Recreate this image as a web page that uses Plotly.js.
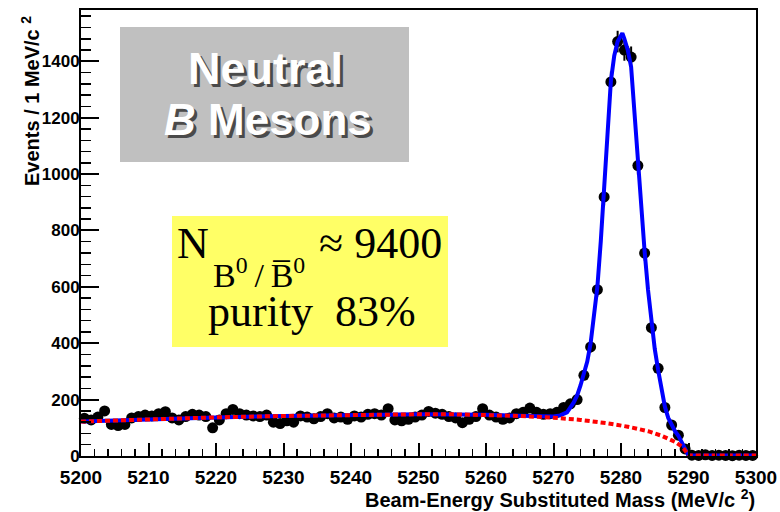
<!DOCTYPE html>
<html>
<head>
<meta charset="utf-8">
<script src="https://cdn.plot.ly/plotly-3.0.1.min.js"></script>
<style>html,body{margin:0;padding:0;background:#fff;}#chart{width:780px;height:512px;}</style>
</head>
<body>
<div id="chart"></div>
<script>
// ---- data ----
// events per 1 MeV/c^2 bin, bins start at 5200 (centres 5200.5 ... 5299.5)
const binStart = 5200.5;
const binWidth = 1;
const counts = [
  134,128,138,160,112,108,112,135,140,145,
  142,150,157,135,128,140,148,145,140,100,
  128,150,165,150,145,142,140,145,120,115,
  125,120,142,138,132,140,150,135,138,130,
  142,138,148,150,145,168,128,125,130,138,
  145,158,152,148,140,135,118,130,140,168,
  145,138,130,135,150,155,170,155,148,150,
  155,172,185,200,286,387,590,919,1327,1470,
  1440,1415,1030,720,455,311,172,110,74,25,
  3,2,4,2,3,2,1,3,2,2
];
// total fit (blue)
const fitMass = [5200,5210,5220,5230,5240,5250,5260,5265,5268,5270,
  5271,5272,5273,5273.5,5274,5274.5,5275,5275.5,5276,5276.5,
  5277,5277.5,5278,5278.5,5279,5279.5,5280,5280.2,5280.5,5281,
  5281.5,5282,5282.5,5283,5283.5,5284,5284.5,5285,5285.5,5286,
  5286.5,5287,5287.5,5288,5288.5,5289,5289.5,5290,5300];
const fitTotal = [122,130,137,142,146,148,146,142,139,140,
  144,155,190,215,250,290,335,400,490,600,
  760,930,1140,1330,1420,1470,1497,1500,1480,1440,
  1380,1210,1030,870,725,590,470,380,305,235,
  175,135,108,88,72,50,25,2,2];
// background fit (red dotted)
const bkgMass = [5200,5210,5220,5230,5240,5250,5255,5260,5265,5270,5274,5278,5281,5284,5286,5288,5289,5289.5,5290,5300];
const bkgLevel = [122,130,137,142,146,148,148,146,142,136,128,116,104,88,72,50,34,20,2,2];

const xTitle = 'Beam-Energy Substituted Mass (MeV/c <sup>2</sup>)';
const yTitle = 'Events / 1 MeV/c <sup>2</sup>';

// ---- layout helpers (pixel -> paper) ----
const L = 81, R = 756, T = 10, B = 456;
const PX = x => (x - L) / (R - L);
const PY = y => (B - y) / (B - T);

const sans = 'Liberation Sans, Arial, sans-serif';
const serif = 'Liberation Serif, Times New Roman, serif';

const traces = [
  {
    type: 'scatter', mode: 'markers',
    x0: binStart, dx: binWidth, y: counts,
    marker: {color: '#000', size: 11},
    error_y: {type: 'sqrt', visible: true, color: '#000', thickness: 2, width: 0},
    cliponaxis: false, hoverinfo: 'skip', showlegend: false
  },
  {
    type: 'scatter', mode: 'lines', x: fitMass, y: fitTotal,
    line: {color: '#0000ff', width: 4},
    hoverinfo: 'skip', showlegend: false
  },
  {
    type: 'scatter', mode: 'lines', x: bkgMass, y: bkgLevel,
    line: {color: '#ff0000', width: 4, dash: '5px,3px'},
    hoverinfo: 'skip', showlegend: false
  }
];

function ann(text, x, y, font, extra) {
  return Object.assign({
    text: text, x: x, y: y, xref: 'paper', yref: 'paper',
    showarrow: false, xanchor: 'center', yanchor: 'middle', font: font
  }, extra || {});
}

const boldSans = (s, c, sh) => Object.assign({family: sans, size: s, color: c, weight: 'bold'}, sh ? {shadow: sh} : {});
const serifFont = s => ({family: serif, size: s, color: '#000'});
const boxShadow = '3px 3px 0px #4a4a4a';

const annotations = [
  // Neutral B Mesons (white with dark drop shadow)
  ann('Neutral', PX(265), PY(68), boldSans(45, '#fff', boxShadow)),
  ann('<i>B</i> Mesons', PX(268), PY(119), boldSans(44, '#fff', boxShadow)),
  // yield box
  ann('N', PX(192.5), PY(243), serifFont(44)),
  ann('B<sup>0</sup>\u2009/\u2009B\u0305<sup>0</sup>', PX(259), PY(273), serifFont(34)),
  ann('\u2248 9400', PX(380), PY(243), serifFont(44)),
  ann('purity\u00a0\u00a083%', PX(312), PY(311), serifFont(44)),
  // axis titles
  ann(xTitle, 1, PY(498), boldSans(20, '#000'), {xanchor: 'right', borderpad: 0}),
  ann(yTitle, PX(30), PY(14), boldSans(20, '#000'), {yanchor: 'top', textangle: -90})
];

const shapes = [
  {type: 'rect', xref: 'paper', yref: 'paper', x0: PX(120), x1: PX(409), y0: PY(162), y1: PY(27),
   fillcolor: '#c0c0c0', line: {width: 0}, layer: 'above'},
  {type: 'rect', xref: 'paper', yref: 'paper', x0: PX(172), x1: PX(448), y0: PY(347), y1: PY(216),
   fillcolor: '#ffff66', line: {width: 0}, layer: 'above'}
];

const layout = {
  width: 780, height: 512, autosize: false,
  margin: {l: L, r: 780 - R, t: T, b: 512 - B},
  paper_bgcolor: '#fff', plot_bgcolor: '#fff',
  showlegend: false,
  xaxis: {
    range: [5200, 5300], dtick: 10, tick0: 5200,
    ticks: 'inside', ticklen: 13, tickwidth: 2, tickcolor: '#000',
    minor: {dtick: 2, ticks: 'inside', ticklen: 7, tickwidth: 1.5, tickcolor: '#000'},
    showgrid: false, zeroline: false,
    showline: true, linecolor: '#000', linewidth: 2, mirror: true,
    tickfont: {family: sans, size: 19, color: '#000', weight: 'bold'},
    ticklabelstandoff: 3,
    fixedrange: true
  },
  yaxis: {
    range: [0, 1582], dtick: 200, tick0: 0,
    ticks: 'inside', ticklen: 18, tickwidth: 2, tickcolor: '#000',
    minor: {dtick: 40, ticks: 'inside', ticklen: 10, tickwidth: 1.5, tickcolor: '#000'},
    showgrid: false, zeroline: false,
    showline: true, linecolor: '#000', linewidth: 2, mirror: true,
    tickfont: {family: sans, size: 17, color: '#000', weight: 'bold'},
    ticklabelstandoff: -4,
    fixedrange: true
  },
  annotations: annotations,
  shapes: shapes
};

Plotly.newPlot('chart', traces, layout, {staticPlot: true, displayModeBar: false});
</script>
</body>
</html>
